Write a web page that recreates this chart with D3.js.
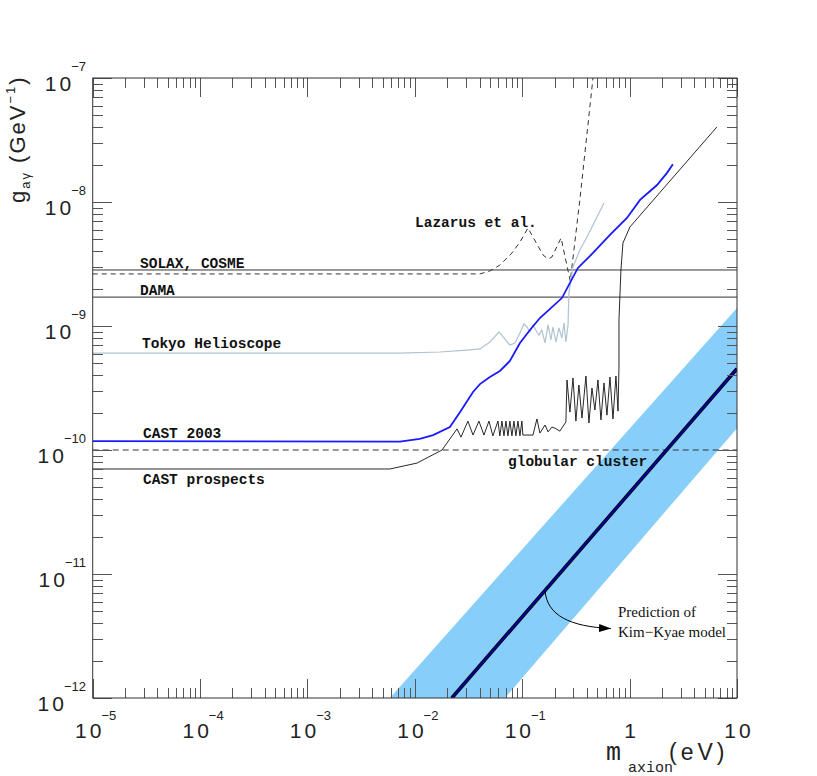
<!DOCTYPE html>
<html>
<head>
<meta charset="utf-8">
<title>Axion coupling limits</title>
<script src="https://d3js.org/d3.v7.min.js"></script>
<style>
  body { margin: 0; background: #fff; }
  .tick line { stroke: #555; shape-rendering: crispEdges; }
  .lbl { font-family: "Liberation Mono", monospace; font-weight: bold; font-size: 14.5px; fill: #111; }
  .num { font-family: "Liberation Sans", sans-serif; fill: #222; }
</style>
</head>
<body>
<svg width="817" height="776"></svg>
<script>
// values: mass in eV, coupling in GeV^-1
const massRange = [1e-5, 10];
const couplingRange = [1e-12, 1e-7];
const massTicks = [1e-5, 1e-4, 1e-3, 1e-2, 1e-1, 1, 10];
const massTickLabels = [["10", "−5"], ["10", "−4"], ["10", "−3"], ["10", "−2"], ["10", "−1"], ["1", ""], ["10", ""]];
const couplingTicks = [1e-12, 1e-11, 1e-10, 1e-9, 1e-8, 1e-7];
const couplingTickLabels = [["10", "−12"], ["10", "−11"], ["10", "−10"], ["10", "−9"], ["10", "−8"], ["10", "−7"]];

const solaxCosme = 2.83e-9;
const dama = 1.71e-9;
const globularCluster = 1e-10;

const lazarus = [[1e-5, 2.63e-9], [0.0404, 2.63e-9], [0.050, 2.78e-9], [0.0619, 3.10e-9], [0.0802, 3.88e-9],
  [0.0952, 4.75e-9], [0.113, 6.17e-9], [0.156, 3.74e-9], [0.174, 3.47e-9], [0.189, 3.60e-9], [0.230, 5.13e-9],
  [0.280, 2.30e-9], [0.344, 1.04e-8], [0.456, 1e-7]];

const tokyo = [[1e-5, 6.05e-10], [7.26e-3, 6.05e-10], [0.0171, 6.17e-10], [0.0305, 6.4e-10], [0.0404, 6.53e-10],
  [0.050, 7.43e-10], [0.0607, 8.95e-10], [0.0767, 7.03e-10], [0.0855, 7.30e-10], [0.0952, 8.78e-10],
  [0.1037, 1.04e-9], [0.1106, 9.82e-10], [0.118, 8.95e-10], [0.126, 1.02e-9], [0.137, 8.95e-10], [0.143, 8.46e-10],
  [0.152, 9.29e-10], [0.163, 7.30e-10], [0.174, 1.02e-9], [0.185, 7.71e-10], [0.193, 9.82e-10], [0.206, 7.43e-10],
  [0.220, 9.64e-10], [0.234, 8.0e-10], [0.245, 1.06e-9], [0.255, 7.43e-10], [0.267, 1.02e-9], [0.272, 1.85e-9],
  [0.297, 2.99e-9], [0.344, 4.10e-9], [0.401, 5.22e-9], [0.497, 7.57e-9], [0.577, 9.8e-9]];

const cast2003 = [[1e-5, 1.18e-10], [7.26e-3, 1.17e-10], [0.0111, 1.23e-10], [0.0148, 1.32e-10], [0.0212, 1.53e-10],
  [0.0263, 2.02e-10], [0.0348, 2.94e-10], [0.0404, 3.40e-10], [0.050, 3.88e-10], [0.0619, 4.34e-10],
  [0.0767, 5.22e-10], [0.0952, 7.30e-10], [0.118, 9.29e-10], [0.146, 1.16e-9], [0.234, 1.68e-9], [0.330, 2.94e-9],
  [0.456, 3.88e-9], [0.656, 5.42e-9], [0.944, 7.43e-9], [1.25, 1.04e-8], [1.80, 1.37e-8], [2.22, 1.71e-8],
  [2.53, 2.02e-8]];

const castProspects = [[1e-5, 7.03e-11], [5.86e-3, 7.03e-11], [0.0105, 7.85e-11], [0.0179, 1.0e-10],
  [0.0247, 1.48e-10], [0.0269, 1.27e-10], [0.0312, 1.71e-10], [0.0348, 1.32e-10], [0.0395, 1.71e-10],
  [0.0440, 1.32e-10], [0.0490, 1.71e-10], [0.0533, 1.30e-10], [0.0594, 1.71e-10],
  [0.0619, 1.30e-10], [0.0647, 1.71e-10], [0.0676, 1.30e-10], [0.0705, 1.71e-10], [0.0736, 1.30e-10],
  [0.0767, 1.71e-10], [0.0802, 1.30e-10], [0.0837, 1.71e-10], [0.0873, 1.30e-10], [0.0912, 1.71e-10],
  [0.0952, 1.30e-10], [0.0993, 1.71e-10],
  [0.1014, 1.32e-10], [0.1259, 1.32e-10], [0.137, 1.78e-10], [0.146, 1.37e-10], [0.163, 1.59e-10],
  [0.174, 1.40e-10], [0.189, 1.53e-10], [0.202, 1.50e-10], [0.224, 1.42e-10], [0.255, 1.68e-10],
  [0.261, 3.67e-10], [0.278, 2.02e-10], [0.297, 3.81e-10], [0.316, 1.71e-10], [0.337, 3.34e-10],
  [0.360, 1.81e-10], [0.392, 3.95e-10], [0.418, 1.65e-10], [0.446, 3.16e-10], [0.475, 2.10e-10],
  [0.507, 3.67e-10], [0.541, 1.75e-10], [0.577, 3.47e-10], [0.615, 1.91e-10], [0.656, 3.88e-10],
  [0.700, 1.78e-10], [0.746, 3.95e-10], [0.780, 2.06e-10],
  [0.796, 4.67e-10], [0.796, 1.12e-9], [0.830, 2.83e-9], [0.867, 4.67e-9], [1.007, 6.29e-9], [6.50, 4.03e-8]];

// Kim-Kyae prediction: centre line and band edges
const kimKyae = [[0.0221, 1e-12], [10, 4.52e-10]];
const kimKyaeUpper = [[5.86e-3, 1e-12], [10, 1.40e-9]];
const kimKyaeLower = [[0.069, 1e-12], [10, 1.50e-10]];
const kimKyaePoint = [0.163, 7.35e-12];

const svg = d3.select("svg");
const margin = {top: 78, right: 80, bottom: 78, left: 92.7};
const W = 817, H = 776;

const x = d3.scaleLog().domain(massRange).range([margin.left, W - margin.right]);
const y = d3.scaleLog().domain(couplingRange).range([H - margin.bottom, margin.top]);

svg.append("defs").append("clipPath").attr("id", "plot")
  .append("rect")
  .attr("x", x.range()[0]).attr("y", y.range()[1])
  .attr("width", x.range()[1] - x.range()[0]).attr("height", y.range()[0] - y.range()[1]);

const plot = svg.append("g").attr("clip-path", "url(#plot)");
const line = d3.line().x(d => x(d[0])).y(d => y(d[1]));

// band
plot.append("path")
  .attr("d", line(kimKyaeUpper.concat(kimKyaeLower.slice().reverse())) + "Z")
  .attr("fill", "#87cefa");

// horizontal limits
function hline(v, dash) {
  plot.append("path")
    .attr("d", line([[massRange[0], v], [massRange[1], v]]))
    .attr("fill", "none").attr("stroke", "#333").attr("stroke-width", 1)
    .attr("stroke-dasharray", dash || null);
}
hline(solaxCosme);
hline(dama);
hline(globularCluster, "6,4");

plot.append("path").attr("d", line(lazarus))
  .attr("fill", "none").attr("stroke", "#333").attr("stroke-width", 1).attr("stroke-dasharray", "5,4");
plot.append("path").attr("d", line(tokyo))
  .attr("fill", "none").attr("stroke", "#b0c3d1").attr("stroke-width", 1.2);
plot.append("path").attr("d", line(castProspects))
  .attr("fill", "none").attr("stroke", "#111").attr("stroke-width", 0.9);
plot.append("path").attr("d", line(cast2003))
  .attr("fill", "none").attr("stroke", "#1a1aff").attr("stroke-width", 1.8);

plot.append("path").attr("d", line(kimKyae))
  .attr("fill", "none").attr("stroke", "#000").attr("stroke-width", 3.6);
plot.append("path").attr("d", line(kimKyae))
  .attr("fill", "none").attr("stroke", "#0000a8").attr("stroke-width", 1.8);

// ticks
function minors(domain) {
  const out = [];
  for (let e = Math.round(Math.log10(domain[0])); e < Math.round(Math.log10(domain[1])); e++)
    for (let k = 2; k <= 9; k++) out.push(k * Math.pow(10, e));
  return out;
}
const xMin = minors(massRange), yMin = minors(couplingRange);
const axes = [
  [d3.axisBottom, x, `translate(0,${y.range()[0]})`, xMin, massTicks],
  [d3.axisTop, x, `translate(0,${y.range()[1]})`, xMin, massTicks],
  [d3.axisLeft, y, `translate(${x.range()[0]},0)`, yMin, couplingTicks],
  [d3.axisRight, y, `translate(${x.range()[1]},0)`, yMin, couplingTicks]
];
axes.forEach(([ax, sc, tr, mn, mj]) => {
  [[mn, 10], [mj, 19]].forEach(([vals, len]) => {
    svg.append("g").attr("transform", tr)
      .call(ax(sc).tickValues(vals).tickSize(-len).tickFormat(""))
      .call(g => g.select(".domain").remove());
  });
});

svg.append("rect")
  .attr("x", x.range()[0]).attr("y", y.range()[1])
  .attr("width", x.range()[1] - x.range()[0]).attr("height", y.range()[0] - y.range()[1])
  .attr("fill", "none").attr("stroke", "#333").attr("stroke-width", 1);

// tick labels
massTicks.forEach((v, i) => {
  const [b, e] = massTickLabels[i];
  const t = svg.append("text").attr("class", "num")
    .attr("x", x(v) + (e ? 3 : 2)).attr("y", 738).attr("text-anchor", "middle");
  t.append("tspan").attr("font-size", 21).attr("letter-spacing", 3).text(b);
  if (e) t.append("tspan").attr("font-size", 13).attr("dy", -18).attr("dx", -3).text(e);
});
couplingTicks.forEach((v, i) => {
  const [b, e] = couplingTickLabels[i];
  const t = svg.append("text").attr("class", "num")
    .attr("x", 86).attr("y", y(v) + 13).attr("text-anchor", "end");
  t.append("tspan").attr("font-size", 21).attr("letter-spacing", 3).text(b);
  t.append("tspan").attr("font-size", 13).attr("dy", -20).attr("dx", -3).text(e);
});

// axis titles
const yt = svg.append("text").attr("class", "num")
  .attr("transform", "translate(25,203) rotate(-90)")
  .attr("font-size", 22).attr("letter-spacing", 2);
yt.append("tspan").text("g");
yt.append("tspan").attr("font-size", 13).attr("dy", 5).text("aγ");
yt.append("tspan").attr("dy", -5).text(" (GeV");
yt.append("tspan").attr("font-size", 13).attr("dy", -10).text("−1");
yt.append("tspan").attr("dy", 10).text(")");

const xt = svg.append("text").attr("x", 606).attr("y", 760).attr("fill", "#222");
xt.append("tspan").attr("font-family", "Liberation Mono, monospace").attr("font-size", 25).text("m");
xt.append("tspan").attr("font-family", "Liberation Mono, monospace").attr("font-size", 15).attr("dy", 12).attr("dx", 7).text("axion");
xt.append("tspan").attr("font-family", "Liberation Sans, sans-serif").attr("font-size", 23)
  .attr("letter-spacing", 4).attr("dy", -12).attr("dx", -4).text("(eV)");

// curve labels
const labels = [
  ["SOLAX, COSME", 140, 268], ["DAMA", 140, 295], ["Tokyo Helioscope", 142, 348],
  ["CAST 2003", 143, 438], ["CAST prospects", 143, 484], ["Lazarus et al.", 415, 227],
  ["globular cluster", 508, 466]
];
svg.selectAll("text.lbl").data(labels).enter().append("text")
  .attr("class", "lbl").attr("x", d => d[1]).attr("y", d => d[2]).text(d => d[0]);

// annotation
svg.append("defs").append("marker").attr("id", "arr")
  .attr("viewBox", "0 0 12 8").attr("refX", 12).attr("refY", 4)
  .attr("markerWidth", 12).attr("markerHeight", 8).attr("markerUnits", "userSpaceOnUse")
  .attr("orient", "auto")
  .append("path").attr("d", "M0,0 L12,4 L0,8 Z").attr("fill", "#000");
const ax0 = x(kimKyaePoint[0]), ay0 = y(kimKyaePoint[1]);
svg.append("path")
  .attr("d", `M${ax0},${ay0} C${ax0 + 2},${ay0 + 25} ${ax0 + 25},${ay0 + 36} ${ax0 + 66},${ay0 + 38}`)
  .attr("fill", "none").attr("stroke", "#000").attr("stroke-width", 1)
  .attr("marker-end", "url(#arr)");
const note = svg.append("text").attr("font-family", "Liberation Serif, serif").attr("font-size", 15).attr("fill", "#111");
note.append("tspan").attr("x", 618).attr("y", 617).text("Prediction of");
note.append("tspan").attr("x", 618).attr("y", 637).text("Kim−Kyae model");
</script>
</body>
</html>
